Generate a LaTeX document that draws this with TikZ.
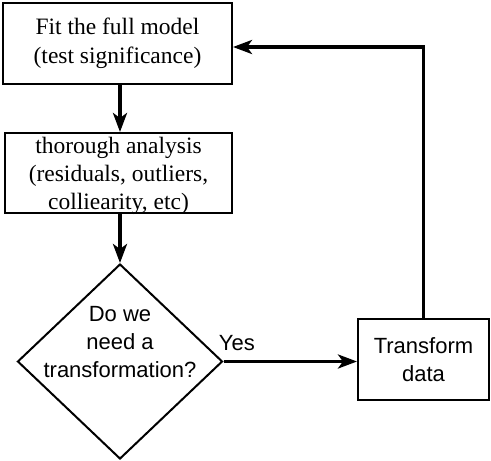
\documentclass[tikz,border=0pt]{standalone}
\usepackage{fontspec}
\setmainfont{Liberation Serif}
\setsansfont{Liberation Sans}
\usetikzlibrary{arrows.meta,shapes.geometric}
\begin{document}
\begin{tikzpicture}[x=1pt,y=-1pt,
  box/.style={draw, line width=2pt, rectangle, inner sep=0pt, align=center,
    font=\fontsize{23.5}{28.5}\selectfont},
  sbox/.style={draw, line width=2pt, rectangle, inner sep=0pt, align=center,
    font=\sffamily\fontsize{22}{28}\selectfont},
  btext/.style={align=center, inner sep=0pt, font=\fontsize{23.5}{28}\selectfont},
  decision/.style={draw, line width=2pt, diamond, inner sep=0pt},
  dtext/.style={align=center, font=\sffamily\fontsize{22}{28}\selectfont},
  arr/.style={line width=3.8pt, -{Stealth[length=19pt,width=14pt,inset=5pt]}},
  yes/.style={font=\sffamily\fontsize{22}{28}\selectfont, inner sep=0pt}]
\useasboundingbox (0,0) rectangle (491,461);
\node[box, minimum width=229pt, minimum height=81pt] (fit) at (117.5,43.5)
  {Fit the full model\\(test significance)};
\node[box, minimum width=227pt, minimum height=80pt,
  label={[btext, yshift=-3pt]center:{thorough analysis\\(residuals, outliers,\\colliearity, etc)}}]
  (ana) at (118.5,173) {};
\node[decision, minimum width=205pt, minimum height=195pt,
  label={[dtext, yshift=19pt]center:{Do we\\need a\\transformation?}}] (d) at (120,361.5) {};
\node[sbox, minimum width=131pt, minimum height=81pt] (tr) at (423.5,359.5)
  {Transform\\data};
\draw[arr] (fit.south -| d.north) -- (ana.north -| d.north);
\draw[arr] (ana.south -| d.north) -- (d.north);
\draw[arr] (d.east) -- node[yes, pos=0.1, above=9pt] {Yes} (tr.west |- d.east);
\draw[arr] (tr.north) |- ([yshift=-3.5pt]fit.east);
\end{tikzpicture}
\end{document}
